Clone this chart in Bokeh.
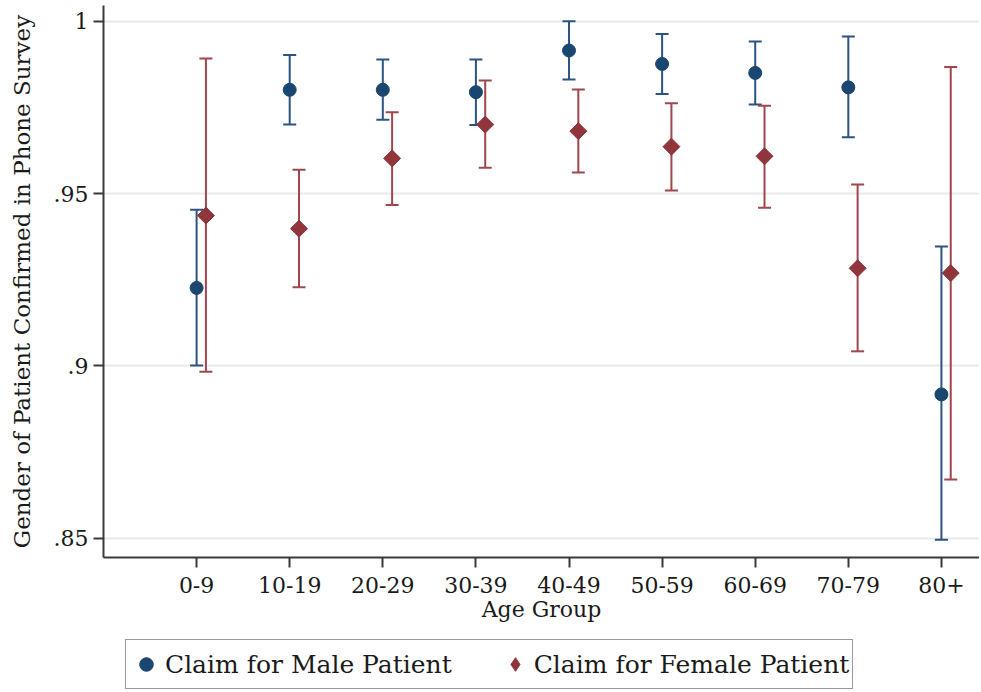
import math
from bokeh.plotting import figure
from bokeh.layouts import column
from bokeh.models import (ColumnDataSource, Whisker, TeeHead, FixedTicker, Range1d,
                          Legend, LegendItem)
from bokeh.embed import file_html
from bokeh.resources import INLINE

# ---------------- data ----------------
age_groups = ["0-9", "10-19", "20-29", "30-39", "40-49", "50-59", "60-69", "70-79", "80+"]
male_est = [0.9226, 0.9801, 0.9801, 0.9794, 0.9915, 0.9876, 0.9850, 0.9808, 0.8917]
male_lo = [0.9001, 0.9700, 0.9714, 0.9699, 0.9831, 0.9789, 0.9758, 0.9663, 0.8495]
male_hi = [0.9453, 0.9902, 0.9889, 0.9889, 1.0000, 0.9963, 0.9941, 0.9956, 0.9346]
female_est = [0.9436, 0.9398, 0.9602, 0.9700, 0.9681, 0.9636, 0.9608, 0.9283, 0.9269]
female_lo = [0.8983, 0.9228, 0.9467, 0.9575, 0.9561, 0.9509, 0.9459, 0.9042, 0.8670]
female_hi = [0.9892, 0.9569, 0.9736, 0.9828, 0.9802, 0.9762, 0.9755, 0.9526, 0.9867]
y_ticks = [0.85, 0.9, 0.95, 1.0]
y_tick_labels = [".85", ".9", ".95", "1"]
series_labels = ["Claim for Male Patient", "Claim for Female Patient"]
female_offset = 0.1

NAVY = "#1a476f"
NAVY_LINE = "#2c5382"
MAROON = "#90353b"
MAROON_LINE = "#a0464d"
FONT = "DejaVu Serif"
AXIS_COLOR = "#3a3a3a"

pos = list(range(len(age_groups)))
src_m = ColumnDataSource(dict(x=pos, y=male_est, lo=male_lo, hi=male_hi))
src_f = ColumnDataSource(dict(x=[i + female_offset for i in pos], y=female_est,
                              lo=female_lo, hi=female_hi))

p = figure(width=979, height=630,
           x_range=Range1d(-1, 8.409), y_range=Range1d(0.84437, 1.00456),
           output_backend="svg", toolbar_location=None,
           min_border_left=103, min_border_right=0, min_border_top=5,
           min_border_bottom=73)
p.outline_line_color = None
p.background_fill_color = "white"
p.border_fill_color = "white"

# grid
p.xgrid.visible = False
p.ygrid.grid_line_color = "#e9e9e9"
p.ygrid.grid_line_width = 2

# error bars
for src, col in ((src_m, NAVY_LINE), (src_f, MAROON_LINE)):
    w = Whisker(source=src, base="x", upper="hi", lower="lo", dimension="height",
                line_color=col, line_width=2,
                upper_head=TeeHead(size=13, line_color=col, line_width=2),
                lower_head=TeeHead(size=13, line_color=col, line_width=2))
    p.add_layout(w)

p.scatter(x="x", y="y", source=src_m, marker="circle", size=13,
          fill_color=NAVY, line_color=NAVY)
p.scatter(x="x", y="y", source=src_f, marker="square", angle=math.pi / 4, size=12,
          fill_color=MAROON, line_color=MAROON)

# axes
p.xaxis.ticker = FixedTicker(ticks=pos)
p.xaxis.major_label_overrides = {i: g for i, g in zip(pos, age_groups)}
p.yaxis.ticker = FixedTicker(ticks=y_ticks)
p.yaxis.major_label_overrides = {t: l for t, l in zip(y_ticks, y_tick_labels)}
p.xaxis.axis_label = "Age Group"
p.yaxis.axis_label = "Gender of Patient Confirmed in Phone Survey"

for ax in (p.xaxis[0], p.yaxis[0]):
    ax.axis_line_color = AXIS_COLOR
    ax.axis_line_width = 2
    ax.major_tick_line_color = AXIS_COLOR
    ax.major_tick_line_width = 2
    ax.major_tick_out = 10
    ax.major_tick_in = 0
    ax.minor_tick_line_color = None
    ax.major_label_text_font = FONT
    ax.major_label_text_font_size = "22px"
    ax.major_label_text_color = "#1a1a1a"
    ax.axis_label_text_font = FONT
    ax.axis_label_text_font_size = "22px"
    ax.axis_label_text_font_style = "normal"
    ax.axis_label_text_color = "#1a1a1a"

p.yaxis.axis_label_text_font_size = "23px"
p.yaxis.major_label_orientation = "horizontal"
p.yaxis.major_label_standoff = 5
p.yaxis.axis_label_standoff = 16
p.xaxis.major_label_standoff = 9
p.xaxis.axis_label_standoff = 1

# ---------------- legend strip ----------------
lg = figure(width=979, height=60, x_range=Range1d(100, 101), y_range=Range1d(100, 101),
            output_backend="svg", toolbar_location=None,
            min_border_left=0, min_border_right=0, min_border_top=0, min_border_bottom=0,
            x_axis_type=None, y_axis_type=None)
lg.outline_line_color = None
lg.xgrid.visible = False
lg.ygrid.visible = False
lm = lg.scatter(x="x", y="y", source=src_m, marker="circle",
                fill_color=NAVY, line_color=NAVY)
lf = lg.scatter(x="x", y="y", source=src_f, marker="diamond",
                fill_color=MAROON, line_color=MAROON)

legend = Legend(items=[LegendItem(label=series_labels[0], renderers=[lm]),
                       LegendItem(label=series_labels[1], renderers=[lf])],
                orientation="horizontal", location=(22, 1), margin=0,
                padding=3, spacing=46, label_standoff=2,
                glyph_width=34, glyph_height=42, label_height=42,
                label_text_font=FONT, label_text_font_size="25px",
                label_text_color="#1a1a1a",
                border_line_color="#333333", border_line_width=1.5,
                background_fill_color="white", background_fill_alpha=1.0)
lg.add_layout(legend)

layout = column(p, lg, spacing=0)
open("out.html", "w").write(file_html(layout, INLINE))
